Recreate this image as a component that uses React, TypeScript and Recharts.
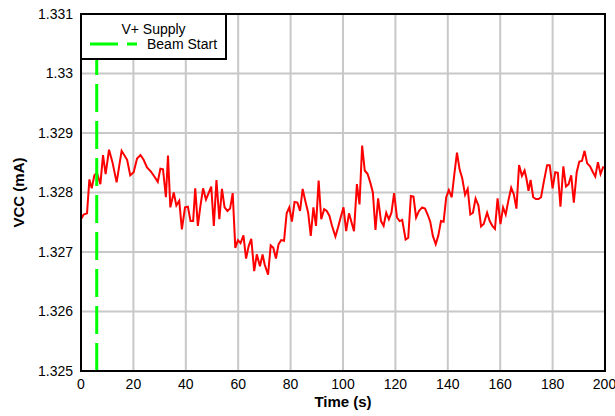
import { LineChart, Line, XAxis, YAxis, CartesianGrid, ReferenceLine, ReferenceArea, Label } from 'recharts';

const times = [
  0, 1.0, 2.3, 3.2, 4.1, 5.1, 6.1, 7.4, 8.4, 9.4, 10.7, 12.0, 13.6, 15.5, 17.6, 18.8, 20.1, 21.4, 22.7, 23.9,
  25.2, 26.7, 28.0, 29.3, 30.3, 31.3, 32.4, 33.2, 34.1, 35.4, 36.4, 37.5, 38.5, 39.7, 40.8, 41.8, 42.8, 43.6, 44.6, 45.6,
  46.6, 47.7, 48.7, 49.7, 50.7, 51.7, 52.8, 53.8, 54.8, 55.9, 56.9, 57.9, 58.9, 59.9, 60.9, 62.0, 63.0, 64.0, 65.0, 66.1,
  67.1, 68.3, 69.3, 70.1, 71.4, 72.4, 73.4, 74.4, 75.4, 76.4, 77.5, 78.5, 79.5, 80.5, 81.5, 82.6, 83.6, 84.6, 85.6, 86.7,
  87.7, 88.7, 89.7, 90.7, 91.7, 92.8, 93.8, 94.8, 95.8, 97.1, 98.1, 99.1, 100.2, 101.2, 102.3, 104.2, 105.3, 106.3, 107.3, 108.3,
  109.4, 110.4, 111.4, 112.4, 113.4, 114.5, 115.5, 116.5, 117.5, 118.5, 119.5, 120.6, 121.6, 122.6, 123.9, 124.9, 125.9, 126.9, 127.9, 129.0,
  130.2, 131.3, 132.3, 133.3, 134.3, 135.4, 136.4, 137.4, 138.4, 139.4, 140.4, 141.5, 142.5, 143.5, 144.5, 145.5, 146.6, 147.6, 148.6, 149.6,
  150.6, 151.7, 152.7, 153.7, 155.0, 156.0, 157.0, 158.0, 159.0, 160.1, 161.1, 162.1, 163.1, 164.2, 165.2, 166.2, 167.2, 168.3, 169.3, 170.0,
  170.8, 171.6, 172.6, 173.6, 174.6, 175.6, 176.6, 177.9, 178.9, 180.0, 181.0, 182.0, 183.0, 184.1, 185.1, 186.1, 187.1, 188.1, 189.2, 190.2,
  191.2, 192.2, 193.2, 194.3, 195.3, 196.3, 197.3, 198.3, 199.4,
];

const vcc = [
  1.32755, 1.32763, 1.32765, 1.32822, 1.32807, 1.32829, 1.32833, 1.32814, 1.32863, 1.32831, 1.32872, 1.32851, 1.32817, 1.3287, 1.32855, 1.32829, 1.32834, 1.32857, 1.32863, 1.32855,
  1.32842, 1.32835, 1.32827, 1.32818, 1.3284, 1.32839, 1.32792, 1.32862, 1.32775, 1.328, 1.32778, 1.32786, 1.32738, 1.32775, 1.32776, 1.32752, 1.32752, 1.32807, 1.32744, 1.32778,
  1.32807, 1.32788, 1.32799, 1.3281, 1.32744, 1.32821, 1.32755, 1.32806, 1.32775, 1.32769, 1.32773, 1.32799, 1.32707, 1.3272, 1.32715, 1.32728, 1.32689, 1.3271, 1.32722, 1.32668,
  1.32696, 1.32676, 1.32696, 1.32679, 1.32662, 1.32711, 1.32707, 1.32689, 1.32713, 1.3272, 1.32719, 1.32765, 1.32775, 1.32751, 1.32784, 1.32783, 1.32769, 1.32806, 1.32786, 1.32766,
  1.32727, 1.32775, 1.32744, 1.3282, 1.32755, 1.32772, 1.32769, 1.32761, 1.32744, 1.32726, 1.32741, 1.32758, 1.32775, 1.32735, 1.32765, 1.32735, 1.32814, 1.3278, 1.32879, 1.32837,
  1.32831, 1.32817, 1.328, 1.32737, 1.3279, 1.32752, 1.32744, 1.32766, 1.32755, 1.32766, 1.32799, 1.32758, 1.32752, 1.32754, 1.32721, 1.32724, 1.32794, 1.32793, 1.32758, 1.32769,
  1.32775, 1.32773, 1.32763, 1.32751, 1.32727, 1.32713, 1.32728, 1.32752, 1.32751, 1.32792, 1.32804, 1.32792, 1.32831, 1.32867, 1.32839, 1.32824, 1.32796, 1.32806, 1.32763, 1.32766,
  1.3279, 1.32778, 1.32743, 1.32747, 1.32766, 1.32752, 1.32744, 1.32739, 1.3279, 1.32747, 1.32775, 1.32763, 1.32786, 1.32808, 1.32797, 1.32773, 1.32846, 1.32828, 1.32837, 1.32824,
  1.32803, 1.32821, 1.32792, 1.32789, 1.32789, 1.32792, 1.32817, 1.32846, 1.32846, 1.32807, 1.32834, 1.32833, 1.32776, 1.32844, 1.3281, 1.32814, 1.32829, 1.32783, 1.32834, 1.32852,
  1.32853, 1.3287, 1.32849, 1.32844, 1.32835, 1.32827, 1.32851, 1.32831, 1.32844,
];

const xTicks = [0, 20, 40, 60, 80, 100, 120, 140, 160, 180, 200];
const yTicks = [1.325, 1.326, 1.327, 1.328, 1.329, 1.33, 1.331];
const beamStart = 6;

const seriesName = 'V+ Supply';
const beamName = 'Beam Start';

const data = times.map((t, i) => ({ t, vcc: vcc[i] }));

const FONT = '"Liberation Sans", Arial, Helvetica, sans-serif';
const GRID = '#c8c8c8';
const RED = '#ff0000';
const GREEN = '#00ff00';

function ChartLegend() {
  return (
    <svg width={147} height={47} style={{ position: 'absolute', left: 80, top: 13 }}>
      <rect x={1} y={1} width={145} height={45} fill="#fff" stroke="#000" strokeWidth={2} />
      <text x={73.5} y={21} textAnchor="middle" fontSize={14} fill="#000">{seriesName}</text>
      <line x1={10} x2={57} y1={31} y2={31} stroke={GREEN} strokeWidth={3} strokeDasharray="28 9" />
      <text x={67} y={36} fontSize={14} fill="#000">{beamName}</text>
    </svg>
  );
}

export default function App() {
  return (
    <div style={{ position: 'absolute', left: 0, top: 0, width: 615, height: 416, fontFamily: FONT, background: '#fff' }}>
      <LineChart width={615} height={416} data={data} margin={{ top: 14, right: 10, left: 10, bottom: 5 }}>
        <CartesianGrid stroke={GRID} strokeWidth={2} horizontalValues={yTicks} verticalValues={xTicks} />
        <XAxis
          type="number"
          dataKey="t"
          domain={[0, 200]}
          ticks={xTicks}
          allowDataOverflow
          height={40}
          tickLine={false}
          axisLine={{ stroke: '#000', strokeWidth: 2 }}
          tick={{ fontSize: 14, fill: '#000' }}
        >
          <Label
            content={({ viewBox }: any) => (
              <text x={viewBox.x + viewBox.width / 2} y={viewBox.y + 36} textAnchor="middle" fontSize={15} fontWeight="bold" fill="#000">
                Time (s)
              </text>
            )}
          />
        </XAxis>
        <YAxis
          type="number"
          domain={[1.325, 1.331]}
          ticks={yTicks}
          allowDataOverflow
          width={71}
          tickLine={false}
          axisLine={{ stroke: '#000', strokeWidth: 2 }}
          tick={{ fontSize: 14, fill: '#000' }}
          tickFormatter={(v: number) => String(Number(v.toFixed(3)))}
        >
          <Label
            content={({ viewBox }: any) => {
              const cx = viewBox.x + 8;
              const cy = viewBox.y + viewBox.height / 2;
              return (
                <text x={cx} y={cy} transform={`rotate(-90 ${cx} ${cy})`} textAnchor="middle" dominantBaseline="central" fontSize={15} fontWeight="bold" fill="#000">
                  VCC (mA)
                </text>
              );
            }}
          />
        </YAxis>
        <ReferenceArea x1={0} x2={200} y1={1.325} y2={1.331} fill="none" stroke="#000" strokeWidth={2} />
        <Line type="linear" dataKey="vcc" stroke={RED} strokeWidth={2} dot={false} activeDot={false} isAnimationActive={false} />
        <ReferenceLine x={beamStart} stroke={GREEN} strokeWidth={3} strokeDasharray="28 9" />
      </LineChart>
      <ChartLegend />
    </div>
  );
}
